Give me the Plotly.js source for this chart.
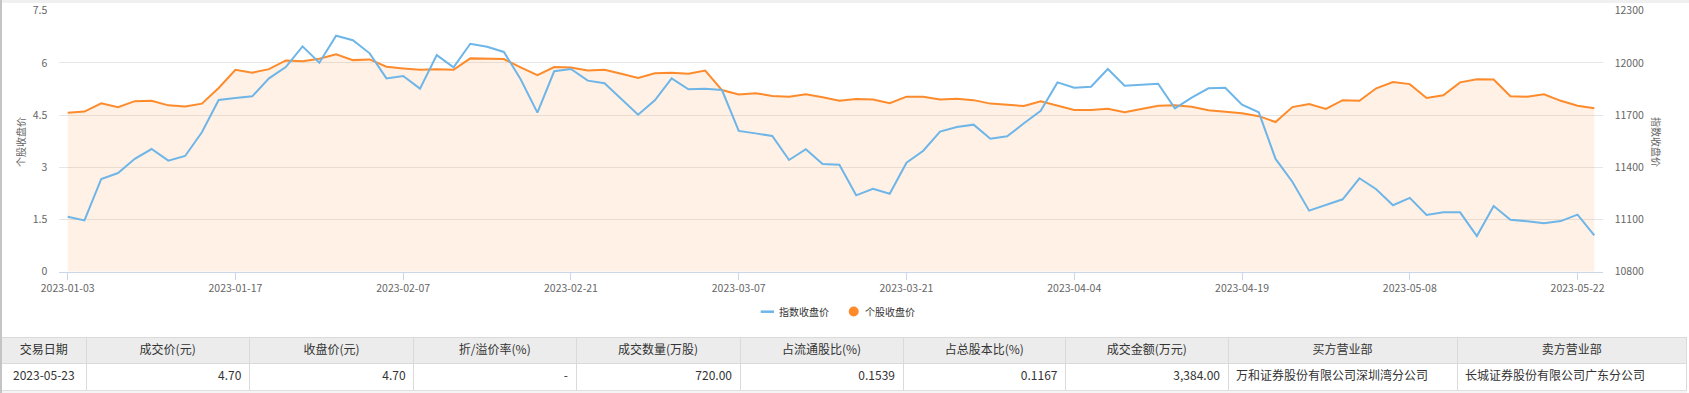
<!DOCTYPE html>
<html>
<head>
<meta charset="utf-8">
<script src="https://cdn.plot.ly/plotly-3.0.1.min.js"></script>
<style>
  html, body { margin: 0; padding: 0; background: #ffffff; }
  #chart { width: 1689px; height: 393px; }
</style>
</head>
<body>
<div id="chart"></div>
<script>
// ---- data ----
const dates = [
  '2023-01-03','2023-01-04','2023-01-05','2023-01-06','2023-01-09','2023-01-10','2023-01-11','2023-01-12','2023-01-13','2023-01-16',
  '2023-01-17','2023-01-18','2023-01-19','2023-01-20','2023-01-30','2023-01-31',
  '2023-02-01','2023-02-02','2023-02-03','2023-02-06','2023-02-07','2023-02-08','2023-02-09','2023-02-10','2023-02-13','2023-02-14',
  '2023-02-15','2023-02-16','2023-02-17','2023-02-20','2023-02-21','2023-02-22','2023-02-23','2023-02-24','2023-02-27','2023-02-28',
  '2023-03-01','2023-03-02','2023-03-03','2023-03-06','2023-03-07','2023-03-08','2023-03-09','2023-03-10','2023-03-13','2023-03-14',
  '2023-03-15','2023-03-16','2023-03-17','2023-03-20','2023-03-21','2023-03-22','2023-03-23','2023-03-24','2023-03-27','2023-03-28',
  '2023-03-29','2023-03-30','2023-03-31',
  '2023-04-03','2023-04-04','2023-04-06','2023-04-07','2023-04-10','2023-04-11','2023-04-12','2023-04-13','2023-04-14','2023-04-17',
  '2023-04-18','2023-04-19','2023-04-20','2023-04-21','2023-04-24','2023-04-25','2023-04-26','2023-04-27','2023-04-28',
  '2023-05-04','2023-05-05','2023-05-08','2023-05-09','2023-05-10','2023-05-11','2023-05-12','2023-05-15','2023-05-16','2023-05-17',
  '2023-05-18','2023-05-19','2023-05-22','2023-05-23'
];

// 个股收盘价 (left axis)
const stockClose = [
  4.57,4.60,4.84,4.73,4.90,4.91,4.78,4.75,4.83,5.28,
  5.80,5.72,5.82,6.07,6.05,6.12,6.25,6.08,6.10,5.89,
  5.84,5.80,5.82,5.80,6.13,6.13,6.11,5.87,5.65,5.88,
  5.87,5.78,5.80,5.69,5.57,5.70,5.72,5.69,5.78,5.22,
  5.09,5.13,5.05,5.03,5.10,5.01,4.91,4.96,4.95,4.84,
  5.03,5.03,4.95,4.97,4.93,4.83,4.79,4.76,4.90,4.78,
  4.65,4.65,4.68,4.58,4.68,4.77,4.78,4.74,4.64,4.60,
  4.55,4.47,4.30,4.73,4.82,4.68,4.93,4.91,5.27,5.45,
  5.39,4.99,5.07,5.44,5.53,5.52,5.04,5.03,5.10,4.91,
  4.77,4.70
];

// 指数收盘价 (right axis)
const indexClose = [
  11116,11095,11333,11367,11449,11505,11438,11465,11601,11787,
  11798,11808,11911,11976,12095,12001,12156,12130,12055,11911,
  11925,11852,12045,11975,12110,12093,12063,11906,11714,11952,
  11965,11898,11883,11791,11702,11785,11911,11848,11852,11844,
  11609,11595,11580,11442,11504,11419,11415,11239,11277,11248,
  11426,11495,11605,11632,11645,11564,11578,11653,11725,11888,
  11857,11863,11965,11869,11875,11880,11739,11800,11854,11857,
  11760,11716,11448,11317,11151,11185,11216,11337,11274,11182,
  11224,11126,11141,11141,11005,11178,11099,11090,11078,11091,
  11128,11009
];

const xTickLabels = ['2023-01-03','2023-01-17','2023-02-07','2023-02-21','2023-03-07',
                     '2023-03-21','2023-04-04','2023-04-19','2023-05-08','2023-05-22'];
const leftTicks = [0, 1.5, 3, 4.5, 6, 7.5];
const rightTicks = [10800, 11100, 11400, 11700, 12000, 12300];

const seriesNames = ['指数收盘价', '个股收盘价'];
const axisTitles = ['个股收盘价', '指数收盘价'];

const tableHeader = ['交易日期','成交价(元)','收盘价(元)','折/溢价率(%)','成交数量(万股)',
                     '占流通股比(%)','占总股本比(%)','成交金额(万元)','买方营业部','卖方营业部'];
const tableRow = ['2023-05-23','4.70','4.70','-','720.00','0.1539','0.1167','3,384.00',
                  '万和证券股份有限公司深圳湾分公司','长城证券股份有限公司广东分公司'];

// ---- layout helpers (pixel -> paper fraction) ----
const W = 1689, H = 393;
const px = v => v / W;
const py = v => 1 - v / H;

const FONT = '"Noto Sans CJK SC", "Noto Sans", sans-serif';
const BLUE = '#6eb5e8';
const ORANGE = '#fd8b2c';

const traces = [
  {
    type: 'scatter', mode: 'lines', name: seriesNames[1],
    x: dates, y: stockClose, xaxis: 'x', yaxis: 'y',
    line: { color: ORANGE, width: 2 },
    fill: 'tozeroy', fillcolor: 'rgba(253,140,46,0.12)',
    hoverinfo: 'x+y'
  },
  {
    type: 'scatter', mode: 'lines', name: seriesNames[0],
    x: dates, y: indexClose, xaxis: 'x', yaxis: 'y2',
    line: { color: BLUE, width: 2 },
    hoverinfo: 'x+y'
  },
  {
    type: 'table',
    domain: { x: [px(1.7), px(1686.7)], y: [0, py(337.3)] },
    columnwidth: [84.3, 163.3, 164.3, 162.4, 164, 163, 162.5, 162.5, 229, 229.7],
    header: {
      values: tableHeader,
      align: 'center',
      height: 26,
      fill: { color: '#ececec' },
      line: { color: '#dadada', width: 1 },
      font: { family: FONT, size: 12, color: '#333333' }
    },
    cells: {
      values: tableRow.map(v => [v]),
      align: ['center','right','right','right','right','right','right','right','left','left'],
      height: 27.4,
      fill: { color: '#ffffff' },
      line: { color: '#dadada', width: 1 },
      font: { family: FONT, size: 12, color: '#333333' }
    }
  }
];

const tickFont = { family: FONT, size: 10.5, color: '#666666' };

const layout = {
  width: W, height: H,
  margin: { l: 0, r: 0, t: 0, b: 0 },
  paper_bgcolor: '#ffffff', plot_bgcolor: 'rgba(0,0,0,0)',
  showlegend: false,
  font: { family: FONT },
  xaxis: {
    type: 'category',
    domain: [px(59.3), px(1602.7)],
    range: [-0.5, dates.length - 0.5],
    anchor: 'y',
    tickmode: 'array', tickvals: xTickLabels, ticktext: xTickLabels,
    ticks: 'outside', ticklen: 7, tickcolor: '#ccd6eb', tickwidth: 1,
    showline: true, linecolor: '#ccd6eb', linewidth: 1,
    showgrid: false, zeroline: false,
    tickfont: tickFont, ticklabelstandoff: 0,
    fixedrange: true
  },
  yaxis: {
    domain: [py(271.7), py(10.7)],
    range: [0, 7.5],
    tickmode: 'array', tickvals: leftTicks, ticktext: leftTicks.map(String),
    showgrid: true, gridcolor: '#e6e6e6', gridwidth: 1,
    zeroline: false, showline: false, ticks: '',
    tickfont: tickFont, ticklabelstandoff: 11,
    fixedrange: true
  },
  yaxis2: {
    overlaying: 'y', side: 'right', anchor: 'x',
    range: [10800, 12300],
    tickmode: 'array', tickvals: rightTicks, ticktext: rightTicks.map(String),
    showgrid: false, zeroline: false, showline: false, ticks: '',
    tickfont: tickFont, ticklabelstandoff: 11,
    fixedrange: true
  },
  shapes: [
    // top grey strip
    { type: 'rect', xref: 'paper', yref: 'paper', x0: 0, x1: 1, y0: py(3), y1: 1,
      fillcolor: '#f0f0f0', line: { width: 0 }, layer: 'below' },
    // left border line
    { type: 'rect', xref: 'paper', yref: 'paper', x0: 0, x1: px(2), y0: 0, y1: 1,
      fillcolor: '#c4c4c4', line: { width: 0 }, layer: 'above' },
    // grey band under table row
    { type: 'rect', xref: 'paper', yref: 'paper', x0: px(2), x1: px(1686.7), y0: 0, y1: py(390.7),
      fillcolor: '#f4f4f4', line: { width: 0 }, layer: 'above' },
    // legend: index line icon
    { type: 'line', xref: 'paper', yref: 'paper', x0: px(760.7), x1: px(774), y0: py(311.7), y1: py(311.7),
      line: { color: BLUE, width: 2.5 } },
    // legend: stock dot icon
    { type: 'circle', xref: 'paper', yref: 'paper', x0: px(848.7), x1: px(858.7), y0: py(316.5), y1: py(306.5),
      fillcolor: ORANGE, line: { width: 0 } }
  ],
  annotations: [
    { xref: 'paper', yref: 'paper', x: px(20), y: py(142), text: axisTitles[0], showarrow: false,
      textangle: -90, font: { family: FONT, size: 10, color: '#666666' }, xanchor: 'center', yanchor: 'middle' },
    { xref: 'paper', yref: 'paper', x: px(1657), y: py(142), text: axisTitles[1], showarrow: false,
      textangle: 90, font: { family: FONT, size: 10, color: '#666666' }, xanchor: 'center', yanchor: 'middle' },
    { xref: 'paper', yref: 'paper', x: px(777), y: py(311.7), text: seriesNames[0], showarrow: false,
      font: { family: FONT, size: 10, color: '#333333' }, xanchor: 'left', yanchor: 'middle' },
    { xref: 'paper', yref: 'paper', x: px(863.5), y: py(311.7), text: seriesNames[1], showarrow: false,
      font: { family: FONT, size: 10, color: '#333333' }, xanchor: 'left', yanchor: 'middle' }
  ]
};

Plotly.newPlot('chart', traces, layout, { displayModeBar: false, staticPlot: true });
</script>
</body>
</html>
